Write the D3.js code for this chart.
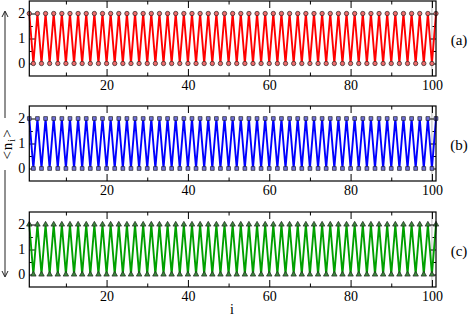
<!DOCTYPE html>
<html>
<head>
<meta charset="utf-8">
<script src="https://cdn.jsdelivr.net/npm/d3@7"></script>
<style>
  body { margin: 0; background: #fff; }
  svg { display: block; }
  svg text { font-family: "Liberation Serif", "DejaVu Serif", serif; }
</style>
</head>
<body>
<svg></svg>
<script>
// site index i = 1..101
let sites = [1,2,3,4,5,6,7,8,9,10,11,12,13,14,15,16,17,18,19,20,21,22,23,24,25,26,27,28,29,30,31,32,33,34,35,36,37,38,39,40,41,42,43,44,45,46,47,48,49,50,51,52,53,54,55,56,57,58,59,60,61,62,63,64,65,66,67,68,69,70,71,72,73,74,75,76,77,78,79,80,81,82,83,84,85,86,87,88,89,90,91,92,93,94,95,96,97,98,99,100,101];

// <n_i> for the three panels
let nA = [2,0,2,0,2,0,2,0,2,0,2,0,2,0,2,0,2,0,2,0,2,0,2,0,2,0,2,0,2,0,2,0,2,0,2,0,2,0,2,0,2,0,2,0,2,0,2,0,2,0,2,0,2,0,2,0,2,0,2,0,2,0,2,0,2,0,2,0,2,0,2,0,2,0,2,0,2,0,2,0,2,0,2,0,2,0,2,0,2,0,2,0,2,0,2,0,2,0,2,0,2];
let nB = [2,0,2,0,2,0,2,0,2,0,2,0,2,0,2,0,2,0,2,0,2,0,2,0,2,0,2,0,2,0,2,0,2,0,2,0,2,0,2,0,2,0,2,0,2,0,2,0,2,0,2,0,2,0,2,0,2,0,2,0,2,0,2,0,2,0,2,0,2,0,2,0,2,0,2,0,2,0,2,0,2,0,2,0,2,0,2,0,2,0,2,0,2,0,2,0,2,0,2,0,2];
let nC = [2,0,2,0,2,0,2,0,2,0,2,0,2,0,2,0,2,0,2,0,2,0,2,0,2,0,2,0,2,0,2,0,2,0,2,0,2,0,2,0,2,0,2,0,2,0,2,0,2,0,2,0,2,0,2,0,2,0,2,0,2,0,2,0,2,0,2,0,2,0,2,0,2,0,2,0,2,0,2,0,2,0,2,0,2,0,2,0,2,0,2,0,2,0,2,0,2,0,2,0,2];

let panelLabels = ["(a)", "(b)", "(c)"];
let xMajorTicks = [20, 40, 60, 80, 100];
let xMinorTicks = [10, 30, 50, 70, 90];
let yMajorTicks = [0, 1, 2];
let yMinorTicks = [0.5, 1.5];

let width = 471;
let height = 316;

let left = 29.3;
let right = 436;
let panelTops = [1, 106, 212];
let panelH = 75;
let serif = '"Liberation Serif", "DejaVu Serif", serif';

let panels = [
  { values: nA, line: "#ff0000", fill: "#ee6b6b", symbol: d3.symbolCircle, size: 15 },
  { values: nB, line: "#0000ff", fill: "#6f6fdc", symbol: d3.symbolSquare, size: 14 },
  { values: nC, line: "#00a000", fill: "#3c8a3c", symbol: d3.symbolTriangle, size: 13 }
];

let svg = d3.select("svg").attr("width", width).attr("height", height);

let xScale = d3.scaleLinear().domain([1, 101]).range([left, right]);

panels.forEach((p, k) => {
  let top = panelTops[k];
  let bottom = top + panelH;
  let yScale = d3.scaleLinear().domain([-0.5, 2.5]).range([bottom, top]);
  let g = svg.append("g");

  // gray guide at i = 100
  g.append("line")
   .attr("x1", xScale(100)).attr("x2", xScale(100))
   .attr("y1", top).attr("y2", bottom)
   .attr("stroke", "#b8b8b8").attr("stroke-width", 1);

  // inward ticks, bottom and top
  let tickAxis = (axisFn, vals, size, y) => {
    let a = g.append("g")
     .attr("transform", "translate(0," + y + ")")
     .call(axisFn(xScale).tickValues(vals).tickSize(size).tickFormat(""));
    a.select(".domain").remove();
    a.selectAll("line").attr("stroke", "#000").attr("stroke-width", 1);
  };
  tickAxis(d3.axisTop, xMajorTicks, 7, bottom);
  tickAxis(d3.axisTop, xMinorTicks, 3.5, bottom);
  tickAxis(d3.axisBottom, xMajorTicks, 7, top);
  tickAxis(d3.axisBottom, xMinorTicks, 3.5, top);

  let yTick = (axisFn, vals, size, x) => {
    let a = g.append("g")
     .attr("transform", "translate(" + x + ",0)")
     .call(axisFn(yScale).tickValues(vals).tickSize(size).tickFormat(""));
    a.select(".domain").remove();
    a.selectAll("line").attr("stroke", "#000").attr("stroke-width", 1);
  };
  yTick(d3.axisRight, yMajorTicks, 6, left);
  yTick(d3.axisRight, yMinorTicks, 3.5, left);
  yTick(d3.axisLeft, yMajorTicks, 6, right);
  yTick(d3.axisLeft, yMinorTicks, 3.5, right);

  // tick labels
  let xl = g.append("g")
   .attr("transform", "translate(0," + bottom + ")")
   .call(d3.axisBottom(xScale).tickValues(xMajorTicks).tickSize(0).tickPadding(4).tickFormat(d3.format("d")));
  xl.select(".domain").remove();
  xl.attr("font-family", serif).attr("font-size", 14);
  xl.selectAll("text").attr("fill", "#000");

  let yl = g.append("g")
   .attr("transform", "translate(" + left + ",0)")
   .call(d3.axisLeft(yScale).tickValues(yMajorTicks).tickSize(0).tickPadding(4).tickFormat(d3.format("d")));
  yl.select(".domain").remove();
  yl.attr("font-family", serif).attr("font-size", 14);
  yl.selectAll("text").attr("fill", "#000");

  // data line
  let lineGen = d3.line()
    .x((d, i) => xScale(sites[i]))
    .y(d => yScale(d));
  g.append("path")
   .datum(p.values)
   .attr("d", lineGen)
   .attr("fill", "none")
   .attr("stroke", p.line)
   .attr("stroke-width", 1.9);

  // markers
  let sym = d3.symbol().type(p.symbol).size(p.size);
  g.selectAll("path.mark")
   .data(p.values)
   .enter()
   .append("path")
   .attr("class", "mark")
   .attr("d", sym)
   .attr("transform", (d, i) => "translate(" + xScale(sites[i]) + "," + yScale(d) + ")")
   .attr("fill", p.fill)
   .attr("stroke", "#222")
   .attr("stroke-width", 0.7);

  // frame
  g.append("rect")
   .attr("x", left).attr("y", top)
   .attr("width", right - left).attr("height", panelH)
   .attr("fill", "none").attr("stroke", "#000").attr("stroke-width", 1.2);

  // panel label
  g.append("text")
   .attr("x", 459).attr("y", top + panelH / 2 + 1)
   .attr("text-anchor", "middle")
   .attr("dominant-baseline", "central")
   .attr("font-size", 15)
   .text(panelLabels[k]);
});

// x title
svg.append("text")
   .attr("x", 232).attr("y", 314)
   .attr("text-anchor", "middle")
   .attr("font-size", 14)
   .text("i");

// y title with arrows
let arrowX = 5;
svg.append("line")
   .attr("x1", arrowX).attr("x2", arrowX).attr("y1", 12).attr("y2", 118)
   .attr("stroke", "#222").attr("stroke-width", 1);
svg.append("line")
   .attr("x1", arrowX).attr("x2", arrowX).attr("y1", 170).attr("y2", 276)
   .attr("stroke", "#222").attr("stroke-width", 1);
svg.append("path")
   .attr("d", "M" + (arrowX - 3) + ",17 L" + arrowX + ",11 L" + (arrowX + 3) + ",17")
   .attr("fill", "none").attr("stroke", "#222").attr("stroke-width", 1);
svg.append("path")
   .attr("d", "M" + (arrowX - 3) + ",271 L" + arrowX + ",277 L" + (arrowX + 3) + ",271")
   .attr("fill", "none").attr("stroke", "#222").attr("stroke-width", 1);

let yTitle = svg.append("text")
   .attr("transform", "translate(12,144) rotate(-90)")
   .attr("text-anchor", "middle")
   .attr("font-size", 15)
   .attr("letter-spacing", 1);
yTitle.append("tspan").text("<n");
yTitle.append("tspan").attr("font-size", 10).attr("dy", 3).text("i");
yTitle.append("tspan").attr("dy", -3).text(">");
</script>
</body>
</html>
